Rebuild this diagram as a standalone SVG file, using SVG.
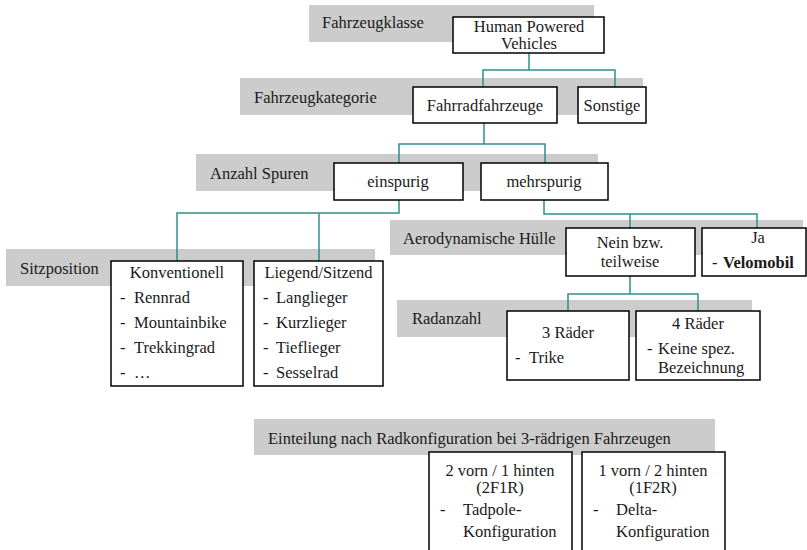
<svg xmlns="http://www.w3.org/2000/svg" width="807" height="550" viewBox="0 0 807 550">
<style>
.c{text-anchor:middle}
.b{font-weight:bold}
.band{fill:#cccccc}
.box{fill:#ffffff;stroke:#000000;stroke-width:1.5}
.con{fill:none;stroke:#2f8f8f;stroke-width:1.5}
</style>
<rect width="807" height="550" fill="#ffffff"/>
<g font-family="'Liberation Serif', 'Times New Roman', 'DejaVu Serif', serif" font-size="16.5" fill="#1a1a1a">
<g id="bands">
<rect class="band" x="309" y="5" width="285" height="37"/>
<text x="322" y="28">Fahrzeugklasse</text>
<rect class="band" x="240" y="78" width="403" height="37"/>
<text x="254" y="103">Fahrzeugkategorie</text>
<rect class="band" x="196" y="154" width="402" height="37"/>
<text x="210" y="179">Anzahl Spuren</text>
<rect class="band" x="6" y="249" width="369" height="37"/>
<text x="20" y="274">Sitzposition</text>
<rect class="band" x="390" y="220" width="413" height="35"/>
<text x="403" y="244">Aerodynamische Hülle</text>
<rect class="band" x="397" y="300" width="355" height="37"/>
<text x="412" y="324">Radanzahl</text>
<rect class="band" x="254" y="419" width="461" height="36"/>
<text x="268" y="444">Einteilung nach Radkonfiguration bei 3-rädrigen Fahrzeugen</text>
</g>
<g id="connectors">
<path class="con" d="M529 53V70M483 88V70H615V88"/>
<path class="con" d="M484 123V144M399 163V144H545V163"/>
<path class="con" d="M399 200V213H177V261M319 213V261"/>
<path class="con" d="M544 200V214H757V228M630 214V228"/>
<path class="con" d="M630 276V294M568 311V294H698V311"/>
</g>
<g id="hpv">
<rect class="box" x="453" y="17" width="151" height="36"/>
<text class="c" x="529" y="32">Human Powered</text>
<text class="c" x="529" y="49">Vehicles</text>
</g>
<g id="fahrradfahrzeuge">
<rect class="box" x="413" y="87" width="144" height="36"/>
<text class="c" x="485" y="111">Fahrradfahrzeuge</text>
</g>
<g id="sonstige">
<rect class="box" x="578" y="87" width="68" height="36"/>
<text class="c" x="612" y="111">Sonstige</text>
</g>
<g id="einspurig">
<rect class="box" x="334" y="163" width="129" height="37"/>
<text class="c" x="398" y="187">einspurig</text>
</g>
<g id="mehrspurig">
<rect class="box" x="481" y="163" width="127" height="37"/>
<text class="c" x="544" y="187">mehrspurig</text>
</g>
<g id="konventionell">
<rect class="box" x="111" y="261" width="132" height="125"/>
<text class="c" x="177" y="278">Konventionell</text>
<text x="120" y="303">-</text><text x="134" y="303">Rennrad</text>
<text x="120" y="328">-</text><text x="134" y="328">Mountainbike</text>
<text x="120" y="353">-</text><text x="134" y="353">Trekkingrad</text>
<text x="120" y="378">-</text><text x="134" y="378">…</text>
</g>
<g id="liegend">
<rect class="box" x="254" y="261" width="129" height="125"/>
<text class="c" x="318.5" y="278">Liegend/Sitzend</text>
<text x="263" y="303">-</text><text x="276" y="303">Langlieger</text>
<text x="263" y="328">-</text><text x="276" y="328">Kurzlieger</text>
<text x="263" y="353">-</text><text x="276" y="353">Tieflieger</text>
<text x="263" y="378">-</text><text x="276" y="378">Sesselrad</text>
</g>
<g id="nein">
<rect class="box" x="566" y="228" width="129" height="48"/>
<text class="c" x="630" y="248">Nein bzw.</text>
<text class="c" x="630" y="267">teilweise</text>
</g>
<g id="ja">
<rect class="box" x="702" y="228" width="104" height="48"/>
<text class="c" x="758" y="243">Ja</text>
<text x="712" y="268">-</text><text class="b" x="723" y="268">Velomobil</text>
</g>
<g id="drei">
<rect class="box" x="507" y="311" width="122" height="69"/>
<text class="c" x="568" y="338">3 Räder</text>
<text x="515" y="363">-</text><text x="529" y="363">Trike</text>
</g>
<g id="vier">
<rect class="box" x="636" y="311" width="124" height="69"/>
<text class="c" x="698" y="329">4 Räder</text>
<text x="647" y="354">-</text><text x="658" y="354">Keine spez.</text>
<text x="658" y="373">Bezeichnung</text>
</g>
<g id="tadpole">
<rect class="box" x="429" y="452" width="143" height="110"/>
<text class="c" x="500" y="476">2 vorn / 1 hinten</text>
<text class="c" x="500" y="493">(2F1R)</text>
<text x="440" y="515">-</text><text x="463" y="515">Tadpole-</text>
<text x="463" y="537">Konfiguration</text>
</g>
<g id="delta">
<rect class="box" x="582" y="452" width="143" height="110"/>
<text class="c" x="653" y="476">1 vorn / 2 hinten</text>
<text class="c" x="653" y="493">(1F2R)</text>
<text x="593" y="515">-</text><text x="616" y="515">Delta-</text>
<text x="616" y="537">Konfiguration</text>
</g>
</g>
</svg>
